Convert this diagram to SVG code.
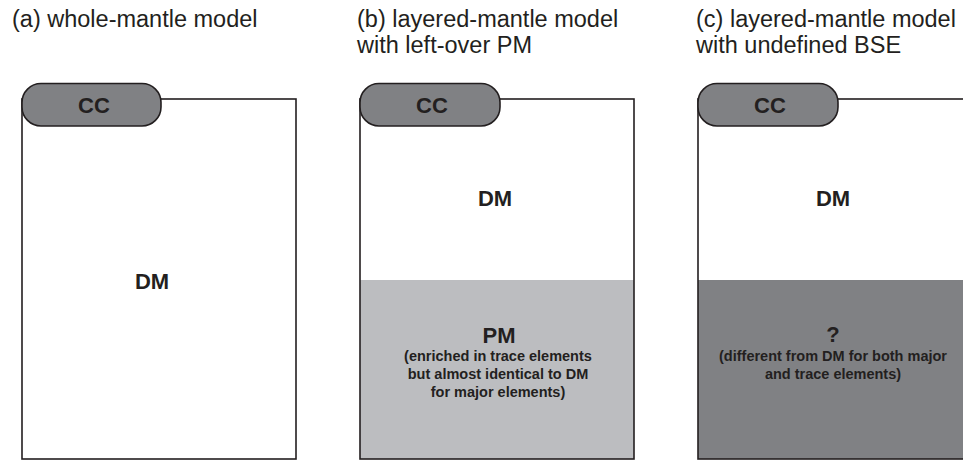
<svg xmlns="http://www.w3.org/2000/svg" width="963" height="460" viewBox="0 0 963 460">
  <style>
    .title { font-family: "Liberation Sans", Arial, sans-serif; font-size: 23.5px; fill: #231f20; }
    .big { font-family: "Liberation Sans", Arial, sans-serif; font-size: 22px; font-weight: bold; fill: #231f20; text-anchor: middle; }
    .small { font-family: "Liberation Sans", Arial, sans-serif; font-size: 14.5px; font-weight: bold; fill: #231f20; text-anchor: middle; }
    .frame { fill: none; stroke: #231f20; stroke-width: 1.6; }
    .pill { fill: #808184; stroke: #231f20; stroke-width: 1.6; }
    .pm { fill: #bcbdc0; }
    .unk { fill: #808184; }
  </style>
  <rect width="963" height="460" fill="#ffffff"/>

  <!-- panel titles -->
  <g id="titles">
    <text class="title" x="12" y="27">(a) whole-mantle model</text>
    <text class="title" x="357" y="27">(b) layered-mantle model</text>
    <text class="title" x="357" y="53">with left-over PM</text>
    <text class="title" x="696" y="27">(c) layered-mantle model</text>
    <text class="title" x="696" y="53">with undefined BSE</text>
  </g>

  <!-- (a) whole mantle -->
  <g id="panel-a">
    <rect class="frame" x="22" y="99" width="274" height="360"/>
    <text class="big" x="152" y="289">DM</text>
    <g id="cc-a">
      <rect class="pill" x="22" y="83.5" width="139" height="42.5" rx="19"/>
      <text class="big" x="94" y="113" font-size="23">CC</text>
    </g>
  </g>

  <!-- (b) layered mantle, primitive mantle below -->
  <g id="panel-b">
    <rect class="pm" x="360" y="280" width="274" height="179"/>
    <rect class="frame" x="360" y="99" width="274" height="360"/>
    <text class="big" x="495" y="206">DM</text>
    <g id="pm-b">
      <text class="big" x="499" y="343">PM</text>
      <text class="small" x="498" y="361">(enriched in trace elements</text>
      <text class="small" x="498" y="379">but almost identical to DM</text>
      <text class="small" x="498" y="397">for major elements)</text>
    </g>
    <g id="cc-b">
      <rect class="pill" x="360" y="83.5" width="140" height="42.5" rx="19"/>
      <text class="big" x="432" y="113" font-size="23">CC</text>
    </g>
  </g>

  <!-- (c) layered mantle, unknown lower reservoir -->
  <g id="panel-c">
    <rect class="unk" x="698" y="280" width="280" height="179"/>
    <rect class="frame" x="698" y="99" width="280" height="360"/>
    <text class="big" x="833" y="206">DM</text>
    <g id="unk-c">
      <text class="big" x="833" y="342">?</text>
      <text class="small" x="833" y="361">(different from DM for both major</text>
      <text class="small" x="833" y="379">and trace elements)</text>
    </g>
    <g id="cc-c">
      <rect class="pill" x="698" y="83.5" width="140" height="42.5" rx="19"/>
      <text class="big" x="770" y="113" font-size="23">CC</text>
    </g>
  </g>
</svg>
